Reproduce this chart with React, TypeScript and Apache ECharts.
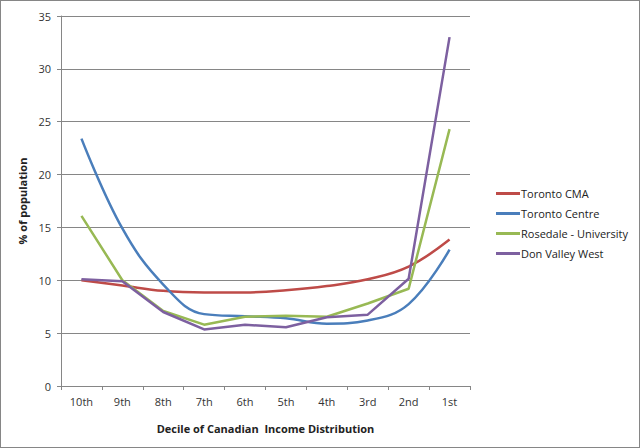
import React, { useEffect, useRef } from 'react';
import * as echarts from 'echarts';

const deciles = ['10th', '9th', '8th', '7th', '6th', '5th', '4th', '3rd', '2nd', '1st'];
const torontoCma = [10.0, 9.5, 9.0, 8.85, 8.85, 9.05, 9.45, 10.1, 11.3, 13.85];
const torontoCentre = [23.4, 14.9, 9.6, 6.8, 6.6, 6.4, 5.9, 6.2, 7.75, 12.9];
const rosedale = [16.1, 10.0, 7.1, 5.8, 6.55, 6.65, 6.55, 7.8, 9.2, 24.3];
const donValley = [10.1, 9.9, 7.0, 5.35, 5.8, 5.55, 6.5, 6.75, 10.15, 33.0];

const FONT = '"Open Sans", "Liberation Sans", sans-serif';

export default function App() {
  const ref = useRef<HTMLDivElement>(null);
  useEffect(() => {
    if (ref.current) {
      const chart = echarts.init(ref.current, null, { renderer: 'svg' });
      const line = (name: string, data: number[], color: string, smooth: boolean) => ({
        name,
        type: 'line',
        data,
        smooth: smooth ? 0.4 : false,
        symbol: 'none',
        lineStyle: { color, width: 2.5 },
        itemStyle: { color },
      });
      chart.setOption({
        animation: false,
        backgroundColor: '#fff',
        textStyle: { fontFamily: FONT },
        grid: { left: 60, right: 169, top: 15, bottom: 61 },
        legend: {
          orient: 'vertical',
          left: 490,
          top: 182,
          itemWidth: 24,
          itemHeight: 3,
          itemGap: 9,
          icon: 'rect',
          data: ['Toronto CMA', 'Toronto Centre', 'Rosedale - University', 'Don Valley West'],
          textStyle: { fontSize: 11, color: '#222', fontFamily: FONT, padding: [0, 0, 0, -4] },
        },
        xAxis: {
          type: 'category',
          data: deciles,
          boundaryGap: true,
          name: 'Decile of Canadian  Income Distribution',
          nameLocation: 'middle',
          nameGap: 37,
          nameTextStyle: { fontWeight: 'bold', fontSize: 11, color: '#222', fontFamily: FONT },
          axisLine: { lineStyle: { color: '#868686', width: 1 } },
          axisTick: { show: true, length: 4, lineStyle: { color: '#868686' } },
          axisLabel: { fontSize: 11, color: '#333', margin: 10 },
          splitLine: { show: false },
        },
        yAxis: {
          type: 'value',
          min: 0,
          max: 35,
          interval: 5,
          name: '% of population',
          nameLocation: 'middle',
          nameGap: 31,
          nameTextStyle: { fontWeight: 'bold', fontSize: 11, color: '#222', fontFamily: FONT },
          axisLine: { show: true, lineStyle: { color: '#868686', width: 1 } },
          axisTick: { show: true, length: 4, inside: false, lineStyle: { color: '#868686' } },
          axisLabel: { fontSize: 11, color: '#333', margin: 10 },
          splitLine: { lineStyle: { color: '#868686', width: 1 } },
        },
        series: [
          line('Toronto CMA', torontoCma, '#BE4B48', true),
          line('Toronto Centre', torontoCentre, '#4A7EBB', true),
          line('Rosedale - University', rosedale, '#98B954', false),
          line('Don Valley West', donValley, '#7D60A0', false),
        ],
      });
      return () => chart.dispose();
    }
  }, []);
  return (
    <div
      style={{
        position: 'absolute',
        left: 0,
        top: 0,
        width: 640,
        height: 448,
        boxSizing: 'border-box',
        border: '1px solid #868686',
      }}
    >
      <div ref={ref} style={{ width: 638, height: 446 }} />
    </div>
  );
}
